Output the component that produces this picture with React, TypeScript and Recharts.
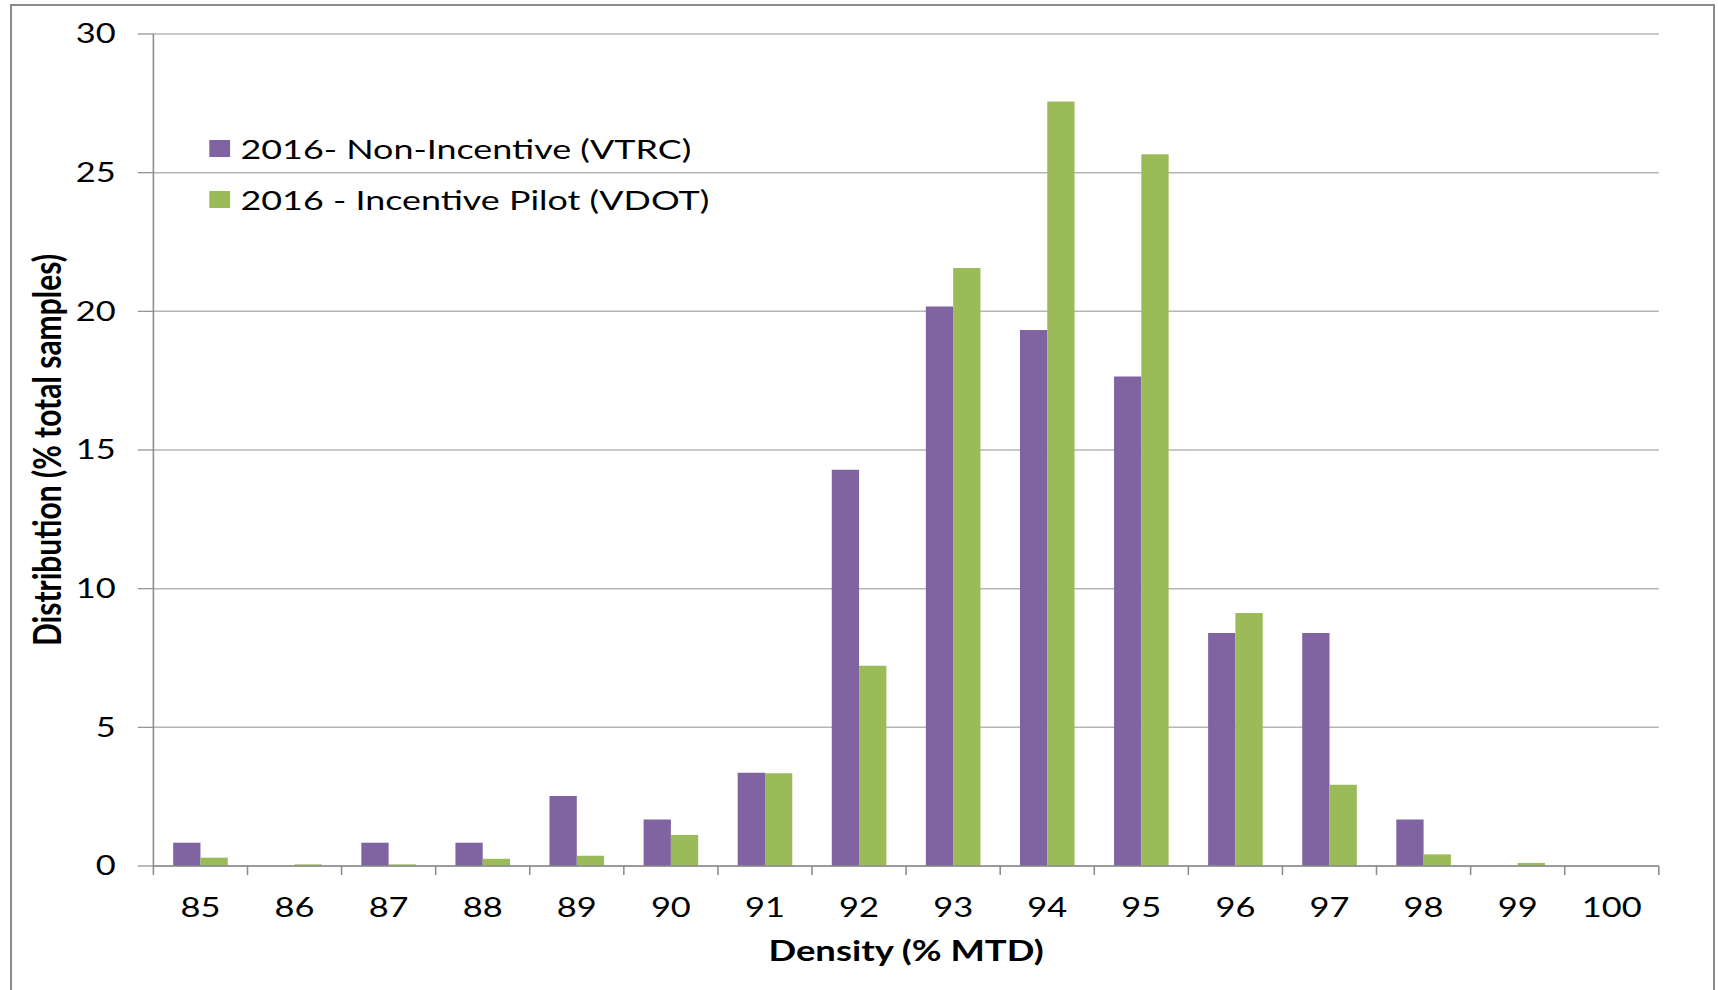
import React from 'react';
import { BarChart, Bar, XAxis, YAxis, CartesianGrid } from 'recharts';

const categories = ['85', '86', '87', '88', '89', '90', '91', '92', '93', '94', '95', '96', '97', '98', '99', '100'];
const nonIncentive = [0.84, 0, 0.84, 0.84, 2.52, 1.68, 3.36, 14.29, 20.17, 19.33, 17.65, 8.4, 8.4, 1.68, 0, 0];
const incentivePilot = [0.3, 0.06, 0.06, 0.26, 0.37, 1.12, 3.34, 7.22, 21.56, 27.57, 25.66, 9.12, 2.93, 0.42, 0.11, 0];
const yTicks = [0, 5, 10, 15, 20, 25, 30];
const seriesNames = ['2016- Non-Incentive (VTRC)', '2016 - Incentive Pilot (VDOT)'];
const seriesColors = ['#8064A2', '#9BBB59'];
const xTitle = 'Density (% MTD)';
const yTitle = 'Distribution (% total samples)';

const data = categories.map((c, i) => ({
  density: c,
  nonIncentive: nonIncentive[i],
  incentivePilot: incentivePilot[i],
}));

const S = 1.3;
const CHART_W = 1322;
const CHART_H = 990;
const MARGIN = { top: 34, right: 46, left: 0, bottom: 0 };
const Y_W = 118;
const BAND = (CHART_W - MARGIN.left - MARGIN.right - Y_W) / categories.length;
const AXIS = '#8c8c8c';
const FONT = 'Lato, Carlito, "Open Sans", sans-serif';

const XTick = (props: any) => {
  const { x, y, payload, index } = props;
  const half = BAND / 2;
  return (
    <g>
      <line x1={x - half} x2={x - half} y1={y} y2={y + 9} stroke={AXIS} strokeWidth={1.2} />
      {index === categories.length - 1 && (
        <line x1={x + half} x2={x + half} y1={y} y2={y + 9} stroke={AXIS} strokeWidth={1.2} />
      )}
      <text x={x} y={y + 51} textAnchor="middle" fontSize={26.5} fontFamily={FONT} fill="#000">
        {payload.value}
      </text>
    </g>
  );
};

const YLabel = (props: any) => {
  const vb = props.viewBox || { x: 0, y: 34, width: Y_W, height: 832 };
  const cx = 35;
  const cy = vb.y + vb.height / 2;
  return (
    <text
      x={cx}
      y={cy}
      transform={`rotate(-90 ${cx} ${cy})`}
      textAnchor="middle"
      dominantBaseline="central"
      fontSize={30}
      fontWeight={700}
      fontFamily={FONT}
      fill="#000"
    >
      {yTitle}
    </text>
  );
};

const XLabel = (props: any) => {
  const vb = props.viewBox || { x: Y_W, y: 866, width: 1158, height: 124 };
  const cx = vb.x + vb.width / 2;
  return (
    <text x={cx} y={vb.y + 95} textAnchor="middle" fontSize={28} fontWeight={700} fontFamily={FONT} fill="#000">
      {xTitle}
    </text>
  );
};

export default function App() {
  return (
    <div style={{ position: 'absolute', left: 0, top: 0, width: 1718, height: 990, overflow: 'hidden', background: '#fff' }}>
      <div
        style={{
          position: 'absolute',
          left: 10,
          top: 4,
          width: 1705,
          height: 1000,
          border: '2px solid #8c8c8c',
          boxSizing: 'border-box',
        }}
      />
      <div
        style={{
          position: 'absolute',
          left: 0,
          top: 0,
          width: CHART_W,
          height: CHART_H,
          transform: `scaleX(${S})`,
          transformOrigin: '0 0',
        }}
      >
        <BarChart width={CHART_W} height={CHART_H} data={data} margin={MARGIN} barCategoryGap="21%" barGap={0}>
          <CartesianGrid vertical={false} stroke="#b5b5b5" strokeWidth={1.5} />
          <XAxis
            dataKey="density"
            interval={0}
            height={124}
            tickSize={0}
            tickMargin={0}
            tickLine={false}
            axisLine={{ stroke: AXIS, strokeWidth: 1.5 }}
            tick={<XTick />}
            label={<XLabel />}
          />
          <YAxis
            width={Y_W}
            domain={[0, 30]}
            ticks={yTicks}
            interval={0}
            tickSize={12}
            tickMargin={17}
            axisLine={{ stroke: AXIS, strokeWidth: 1.2 }}
            tickLine={{ stroke: AXIS, strokeWidth: 1.2 }}
            tick={{ fontSize: 26.5, fill: '#000', fontFamily: FONT }}
            label={<YLabel />}
          />
          <Bar dataKey="nonIncentive" name={seriesNames[0]} fill={seriesColors[0]} isAnimationActive={false} />
          <Bar dataKey="incentivePilot" name={seriesNames[1]} fill={seriesColors[1]} isAnimationActive={false} />
        </BarChart>
        {seriesNames.map((name, i) => (
          <div
            key={name}
            style={{
              position: 'absolute',
              left: 161,
              top: (i === 0 ? 148 : 199) - 20,
              height: 40,
              display: 'flex',
              alignItems: 'center',
              fontFamily: FONT,
              fontSize: 27.6,
              color: '#000',
              whiteSpace: 'nowrap',
            }}
          >
            <span style={{ display: 'inline-block', width: 16, height: 17, background: seriesColors[i], marginRight: 8 }} />
            <span>{name}</span>
          </div>
        ))}
      </div>
    </div>
  );
}
